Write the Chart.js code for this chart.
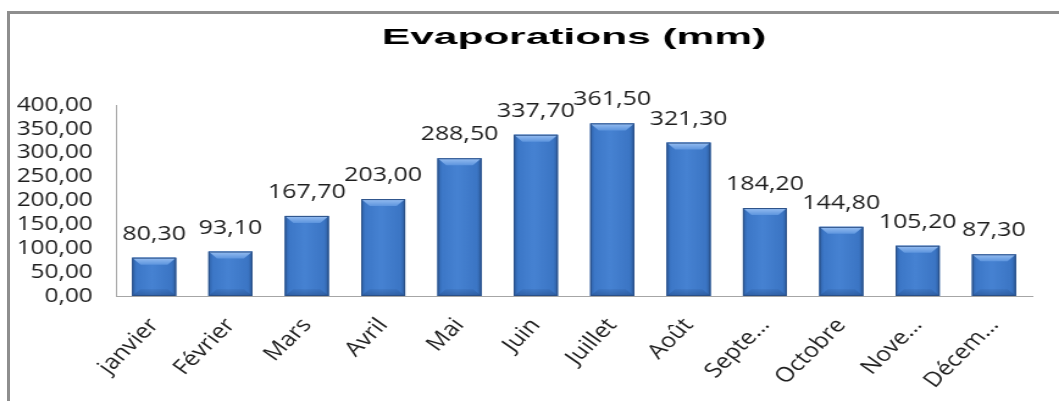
<!DOCTYPE html>
<html lang="fr">
<head>
    <meta charset="UTF-8">
    <title>Evaporations (mm)</title>
    <style>
        html, body {
            margin: 0;
            padding: 0;
            background: #ffffff;
            overflow: hidden;
        }
        #frame {
            position: absolute;
            left: 7px;
            top: 11px;
            right: 0;
            bottom: 0;
            border-left: 3px solid #8e8e8e;
            border-top: 3px solid #8e8e8e;
        }
        /* the chart is laid out narrow, then widened like the original sheet */
        #wrap {
            position: absolute;
            left: 0;
            top: 0;
            width: 868px;
            height: 401px;
            transform: scaleX(1.22005);
            transform-origin: 0 0;
        }
    </style>
</head>
<body>
<div id="frame"></div>
<div id="wrap">
    <canvas id="evapChart"></canvas>
</div>

<script src="https://cdn.jsdelivr.net/npm/chart.js"></script>
<script>
    // Monthly evaporation, mm
    const months = ['janvier', 'Février', 'Mars', 'Avril', 'Mai', 'Juin', 'Juillet', 'Août', 'Septe…', 'Octobre', 'Nove…', 'Décem…'];
    const evaporation = [80.30, 93.10, 167.70, 203.00, 288.50, 337.70, 361.50, 321.30, 184.20, 144.80, 105.20, 87.30];
    const yMin = 0;
    const yMax = 400;
    const yStep = 50;
    const chartTitle = 'Evaporations (mm)';

    const fmt = v => v.toFixed(2).replace('.', ',');
    const labelFont = '"Open Sans", "Noto Sans", sans-serif';

    // shading of the bars: body gradient, bevelled top and bottom, dark outline
    const bevel = {
        id: 'bevel',
        afterDatasetsDraw(chart) {
            const c = chart.ctx;
            chart.getDatasetMeta(0).data.forEach(bar => {
                const l = bar.x - bar.width / 2;
                const r = bar.x + bar.width / 2;
                const t = bar.y;
                const b = bar.base;
                const d = Math.min(7, (b - t) / 3);
                c.save();

                let g = c.createLinearGradient(l, 0, r, 0);
                g.addColorStop(0, '#2d5fa4');
                g.addColorStop(0.1, '#3c77c7');
                g.addColorStop(0.45, '#4682d2');
                g.addColorStop(0.9, '#3b75c4');
                g.addColorStop(1, '#2c5b9c');
                c.fillStyle = g;
                c.fillRect(l, t, r - l, b - t);

                g = c.createLinearGradient(0, t, 0, t + d);
                g.addColorStop(0, '#98bff2');
                g.addColorStop(1, '#5d95de');
                c.fillStyle = g;
                c.beginPath();
                c.moveTo(l, t);
                c.lineTo(r, t);
                c.lineTo(r - d, t + d);
                c.lineTo(l + d, t + d);
                c.closePath();
                c.fill();

                g = c.createLinearGradient(0, b - d, 0, b);
                g.addColorStop(0, 'rgba(30,65,120,0.10)');
                g.addColorStop(1, 'rgba(30,65,120,0.45)');
                c.fillStyle = g;
                c.beginPath();
                c.moveTo(l + d, b - d);
                c.lineTo(r - d, b - d);
                c.lineTo(r, b);
                c.lineTo(l, b);
                c.closePath();
                c.fill();

                c.strokeStyle = '#2a4f86';
                c.lineWidth = 1;
                c.strokeRect(l + 0.5, t + 0.5, bar.width - 1, b - t - 1);
                c.restore();
            });
        }
    };

    // value written above each bar
    const valueLabels = {
        id: 'valueLabels',
        afterDatasetsDraw(chart) {
            const c = chart.ctx;
            const ds = chart.data.datasets[0];
            c.save();
            c.font = '20.5px ' + labelFont;
            c.fillStyle = '#1e1e1e';
            c.textAlign = 'center';
            c.textBaseline = 'alphabetic';
            chart.getDatasetMeta(0).data.forEach((bar, i) => {
                c.fillText(fmt(ds.data[i]), bar.x, bar.y - 18);
            });
            c.restore();
        }
    };

    // wide bold heading centred over the plot
    const heading = {
        id: 'heading',
        afterDraw(chart) {
            const c = chart.ctx;
            const area = chart.chartArea;
            c.save();
            c.font = 'bold 22px "Liberation Sans", Arial, sans-serif';
            c.fillStyle = '#000000';
            c.textAlign = 'center';
            c.textBaseline = 'alphabetic';
            const w = c.measureText(chartTitle).width;
            const sx = 315 / w;
            c.translate((area.left + area.right) / 2, 44);
            c.scale(sx, 1);
            c.fillText(chartTitle, 0, 0);
            c.restore();
        }
    };

    const ctx = document.getElementById('evapChart').getContext('2d');
    const evapChart = new Chart(ctx, {
        type: 'bar',
        data: {
            labels: months,
            datasets: [{
                label: chartTitle,
                data: evaporation,
                backgroundColor: '#3f79c6',
                borderWidth: 0,
                barPercentage: 0.72,
                categoryPercentage: 0.8
            }]
        },
        options: {
            responsive: true,
            maintainAspectRatio: false,
            animation: false,
            layout: {
                padding: { top: 105, right: 22, bottom: 0, left: 0 }
            },
            plugins: {
                legend: { display: false },
                title: { display: false },
                tooltip: { enabled: false }
            },
            scales: {
                x: {
                    grid: { display: false, drawTicks: false },
                    border: { display: true, color: '#a6a6a6', width: 1 },
                    ticks: {
                        color: '#1e1e1e',
                        font: { family: labelFont, size: 20.5, lineHeight: 1.0 },
                        minRotation: 50,
                        maxRotation: 50,
                        autoSkip: false,
                        padding: 19
                    },
                    afterFit: s => { s.height = 105; }
                },
                y: {
                    min: yMin,
                    max: yMax,
                    grid: { display: false, drawTicks: false },
                    border: { display: true, color: '#a6a6a6', width: 1 },
                    ticks: {
                        stepSize: yStep,
                        autoSkip: false,
                        color: '#1e1e1e',
                        font: { family: labelFont, size: 20, lineHeight: 1.0 },
                        padding: 19,
                        callback: v => fmt(v)
                    },
                    afterFit: s => { s.width = 95; }
                }
            }
        },
        plugins: [bevel, valueLabels, heading]
    });
</script>
</body>
</html>
